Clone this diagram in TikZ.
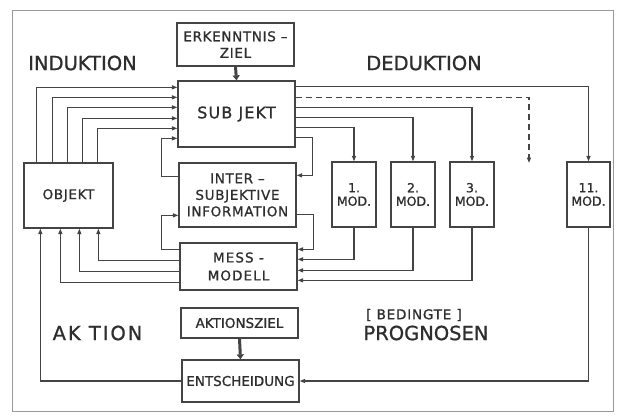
\documentclass[tikz,border=0pt]{standalone}
\usepackage{fontspec}
\setmainfont{DejaVu Sans}[FakeBold=0.9]
\usetikzlibrary{arrows.meta}
\definecolor{ink}{HTML}{2E2E2E}
\definecolor{lineink}{HTML}{444444}
\tikzset{
  box/.style={draw=lineink, line width=1.3pt, rectangle, inner sep=0pt, align=center,
    text=ink, font=\fontsize{13.5}{16.5}\selectfont\addfontfeatures{LetterSpace=5}},
  modbox/.style={box, minimum width=44pt, minimum height=65pt,
    font=\fontsize{12.5}{13.5}\selectfont},
  conn/.style={draw=lineink, line width=1.2pt, -{Triangle[length=5.5pt,width=4pt]}},
  dconn/.style={conn, dashed, dash pattern=on 6pt off 4pt, line width=1.4pt},
  thick arrow/.style={draw=lineink, line width=3pt, -{Triangle[length=5pt,width=7pt]}},
  biglabel/.style={text=ink, inner sep=0pt, font=\fontsize{19.5}{22}\selectfont},
}
\begin{document}
\begin{tikzpicture}[x=1pt, y=-1pt]
\useasboundingbox (0,0) rectangle (622,416);
\fill[white] (0,0) rectangle (622,416);
\draw[gray!80, line width=0.8pt] (12,10) rectangle (613,411);

% boxes
\node[box, minimum width=117pt, minimum height=43pt] (erk) at (235.5,44.5) {ERKENNTNIS –\\ZIEL};
\node[box, minimum width=117pt, minimum height=66pt, font=\fontsize{16}{18}\selectfont\addfontfeatures{LetterSpace=7}] (subj) at (236.5,114) {SUB JEKT};
\node[box, minimum width=117pt, minimum height=64pt] (inter) at (237.5,195) {INTER –\\SUBJEKTIVE\\INFORMATION};
\node[box, minimum width=117pt, minimum height=47pt, font=\fontsize{13.5}{18}\selectfont\addfontfeatures{LetterSpace=8}] (mess) at (238.5,266.5) {MESS -\\MODELL};
\node[box, minimum width=117pt, minimum height=30pt, font=\fontsize{13.5}{16}\selectfont] (akt) at (239.5,323) {AKTIONSZIEL};
\node[box, minimum width=117pt, minimum height=42pt, font=\fontsize{13.5}{16}\selectfont] (ent) at (240.5,381) {ENTSCHEIDUNG};
\node[box, minimum width=89pt, minimum height=65pt] (obj) at (68.5,195.5) {OBJEKT};
\node[modbox] (m1) at (354,194.5) {1.\\MOD.};
\node[modbox] (m2) at (413,194.5) {2.\\MOD.};
\node[modbox] (m3) at (472,194.5) {3.\\MOD.};
\node[modbox, minimum width=43pt] (m11) at (588.5,194.5) {11.\\MOD.};
\coordinate (dashend) at (529,163);

% labels
\node[biglabel] (ind) at (82.5,63) {INDUKTION};
\node[biglabel] (ded) at (424,63) {DEDUKTION};
\node[biglabel, font=\fontsize{19.5}{22}\selectfont\addfontfeatures{LetterSpace=10}] (akl) at (97.5,333) {AK TION};
\node[text=ink, inner sep=0pt, font=\fontsize{13.5}{16}\selectfont\addfontfeatures{LetterSpace=6}] (bed) at (414,315) {[ BEDINGTE ]};
\node[biglabel] (prog) at (426,333) {PROGNOSEN};

% thick arrows
\draw[thick arrow] (erk.south) -- (subj.north);
\draw[thick arrow] (akt.south) -- (ent.north);

% objekt -> subjekt
\foreach \dx/\dy in {13/7, 29/17, 44/27, 59/38, 74/48}
  \draw[conn] ([xshift=\dx pt]obj.north west) |- ([yshift=-\dy pt]subj.north west);

% inter <-> subjekt
\draw[conn] ([yshift=-14pt]inter.north west) -- ++(-17,0) |- ([yshift=-58pt]subj.north west);
\draw[conn] ([yshift=-57pt]subj.north east) -- ++(17,0) |- ([yshift=-13pt]inter.north east);
% mess <-> inter
\draw[conn] ([yshift=-7pt]mess.north west) -- ++(-18,0) |- ([yshift=-53pt]inter.north west);
\draw[conn] ([yshift=-52pt]inter.north east) -- ++(17,0) |- ([yshift=-7pt]mess.north east);

% mess -> objekt
\draw[conn] ([yshift=-18pt]mess.north west) -| ([xshift=75pt]obj.south west);
\draw[conn] ([yshift=-29pt]mess.north west) -| ([xshift=56pt]obj.south west);
\draw[conn] ([yshift=-40pt]mess.north west) -| ([xshift=37pt]obj.south west);
% entscheidung -> objekt
\draw[conn] (ent.west) -| ([xshift=17pt]obj.south west);

% subjekt -> models
\draw[conn] ([yshift=-6pt]subj.north east) -| (m11.north);
\draw[dconn] ([yshift=-17pt]subj.north east) -| (dashend);
\draw[conn] ([yshift=-27pt]subj.north east) -| (m3.north);
\draw[conn] ([yshift=-37pt]subj.north east) -| (m2.north);
\draw[conn] ([yshift=-47pt]subj.north east) -| (m1.north);

% models -> mess / entscheidung
\draw[conn] (m1.south) |- ([yshift=-17pt]mess.north east);
\draw[conn] (m2.south) |- ([yshift=-28pt]mess.north east);
\draw[conn] (m3.south) |- ([yshift=-38pt]mess.north east);
\draw[conn] (m11.south) |- (ent.east);
\end{tikzpicture}
\end{document}
